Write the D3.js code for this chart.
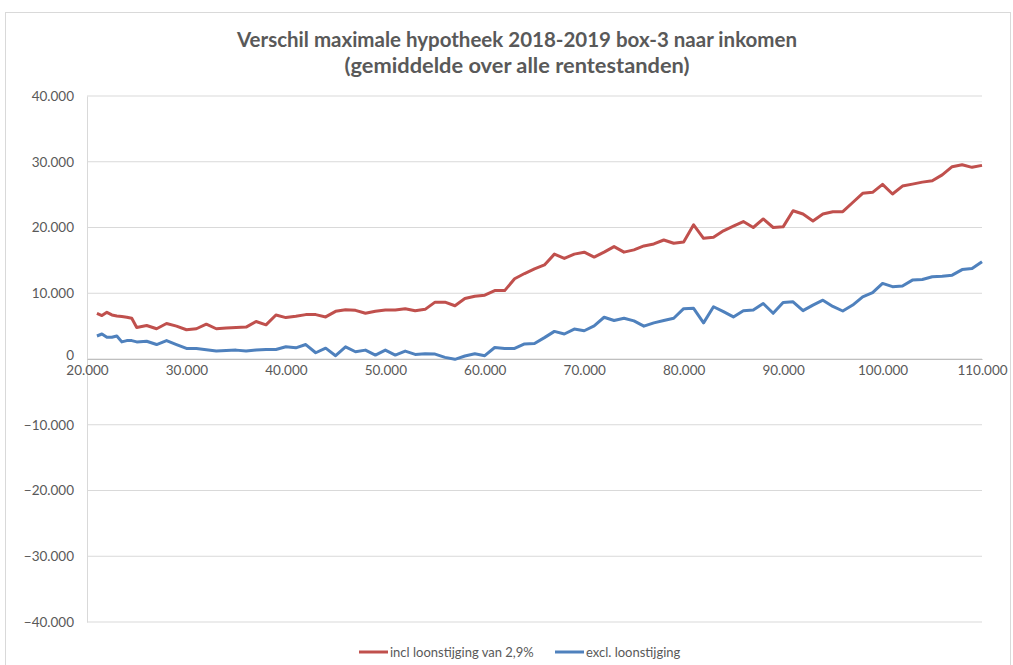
<!DOCTYPE html>
<html>
<head>
<meta charset="utf-8">
<script src="https://cdn.jsdelivr.net/npm/d3@7"></script>
<style>
  body { margin: 0; background: #fff; }
  text { font-family: Lato, "Open Sans", sans-serif; fill: #595959; }
</style>
</head>
<body>
<div class="chart"></div>
<script>
// inkomen (x 1000) en verschil maximale hypotheek (x 1000)
var inkomen = [21, 21.5, 22, 22.5, 23, 23.5, 24, 24.5, 25, 26, 27, 28, 29, 30, 31, 32, 33, 34, 35, 36, 37, 38, 39, 40,
  41, 42, 43, 44, 45, 46, 47, 48, 49, 50, 51, 52, 53, 54, 55, 56, 57, 58, 59, 60, 61, 62, 63, 64, 65, 66, 67, 68, 69, 70,
  71, 72, 73, 74, 75, 76, 77, 78, 79, 80, 81, 82, 83, 84, 85, 86, 87, 88, 89, 90, 91, 92, 93, 94, 95, 96, 97, 98, 99, 100,
  101, 102, 103, 104, 105, 106, 107, 108, 109, 110];

var inclLoon = [6.95, 6.6, 7.1, 6.7, 6.55, 6.45, 6.35, 6.2, 4.8, 5.1, 4.6, 5.4, 5.0, 4.45, 4.6, 5.3, 4.6, 4.7, 4.8, 4.85, 5.7, 5.2, 6.7, 6.3,
  6.5, 6.75, 6.75, 6.4, 7.25, 7.5, 7.4, 6.95, 7.25, 7.45, 7.45, 7.65, 7.35, 7.55, 8.65, 8.65, 8.1, 9.2, 9.55, 9.7, 10.4, 10.4, 12.2, 13.0, 13.7, 14.3, 15.95, 15.3, 15.95, 16.25,
  15.5, 16.25, 17.1, 16.25, 16.6, 17.2, 17.5, 18.1, 17.6, 17.8, 20.4, 18.35, 18.5, 19.5, 20.2, 20.9, 20.0, 21.3, 20.0, 20.1, 22.55, 22.05, 21.0, 22.05, 22.4, 22.4, 23.8, 25.2, 25.35, 26.55,
  25.1, 26.3, 26.6, 26.9, 27.1, 28.0, 29.25, 29.55, 29.15, 29.45];

var exclLoon = [3.5, 3.8, 3.3, 3.3, 3.5, 2.6, 2.8, 2.8, 2.6, 2.7, 2.2, 2.8, 2.2, 1.6, 1.6, 1.4, 1.2, 1.3, 1.35, 1.2, 1.37, 1.45, 1.45, 1.87,
  1.7, 2.2, 0.95, 1.65, 0.5, 1.85, 1.1, 1.35, 0.6, 1.35, 0.6, 1.2, 0.7, 0.8, 0.75, 0.25, -0.05, 0.45, 0.8, 0.5, 1.75, 1.6, 1.6, 2.3, 2.35, 3.25, 4.2, 3.8, 4.55, 4.3,
  5.05, 6.35, 5.85, 6.2, 5.8, 5.0, 5.5, 5.85, 6.2, 7.65, 7.7, 5.5, 7.95, 7.2, 6.4, 7.35, 7.45, 8.45, 6.95, 8.6, 8.7, 7.35, 8.2, 8.95, 8.0, 7.3, 8.2, 9.45, 10.1, 11.5,
  11.0, 11.1, 12.0, 12.1, 12.5, 12.6, 12.75, 13.6, 13.75, 14.8];

var xTicks = [20, 30, 40, 50, 60, 70, 80, 90, 100, 110];
var yTicks = [-40, -30, -20, -10, 0, 10, 20, 30, 40];
var seriesNames = ["incl loonstijging van 2,9%", "excl. loonstijging"];
var titleLines = ["Verschil maximale hypotheek 2018-2019 box-3 naar inkomen", "(gemiddelde over alle rentestanden)"];
var colors = ["#C0504D", "#4F81BD"];

var svgW = 1013, svgH = 665;
var margin = {top: 96, right: 31, bottom: 43, left: 87};
var width = svgW - margin.left - margin.right;
var height = svgH - margin.top - margin.bottom;

var fmt = function(d) {
  return d3.format(",.0f")(d * 1000).replace(/,/g, ".");
};

var svg = d3.select(".chart").append("svg")
  .attr("width", svgW)
  .attr("height", svgH);

// chart border
svg.append("rect")
  .attr("x", 5.5).attr("y", 12.5)
  .attr("width", 1005).attr("height", 660)
  .attr("fill", "none").attr("stroke", "#d9d9d9");

// title
var titleW = [560, 345];
titleLines.forEach(function(t, i) {
  svg.append("text")
    .attr("x", 517).attr("y", 47 + i * 26)
    .attr("text-anchor", "middle")
    .attr("textLength", titleW[i])
    .attr("lengthAdjust", "spacingAndGlyphs")
    .style("font-size", "20.5px").style("font-weight", "bold")
    .text(t);
});

var g = svg.append("g")
  .attr("transform", `translate(${margin.left}, ${margin.top})`);

var x = d3.scaleLinear().domain([20, 110]).range([0, width]);
var y = d3.scaleLinear().domain([-40, 40]).range([height, 0]);

// gridlines
g.append("g")
  .selectAll("line")
  .data(yTicks)
  .enter()
  .append("line")
  .attr("x1", 0).attr("x2", width)
  .attr("y1", d => y(d)).attr("y2", d => y(d))
  .attr("stroke", "#d9d9d9").attr("stroke-width", 1);

// y axis
var leftAxis = d3.axisLeft(y).tickValues(yTicks).tickFormat(fmt).tickSize(0).tickPadding(13);
var yAxis = g.append("g").call(leftAxis);
yAxis.select(".domain").attr("stroke", "#d9d9d9");
yAxis.selectAll("text").style("font-size", "13.5px").attr("fill", "#595959");
// "0" a little higher so it clears the x labels
yAxis.selectAll(".tick text").filter(d => d === 0).attr("dy", "0.05em");

// x axis at zero
var bottomAxis = d3.axisBottom(x).tickValues(xTicks).tickFormat(fmt).tickSize(0).tickPadding(6);
var xAxis = g.append("g")
  .attr("transform", `translate(0, ${y(0)})`)
  .call(bottomAxis);
xAxis.select(".domain").attr("stroke", "#bfbfbf");
xAxis.selectAll("text").style("font-size", "13.5px").attr("fill", "#595959");

// lines
var line = d3.line()
  .x((d, i) => x(inkomen[i]))
  .y(d => y(d));

[inclLoon, exclLoon].forEach(function(vals, k) {
  g.append("path")
    .datum(vals)
    .attr("d", line)
    .attr("fill", "none")
    .attr("stroke", colors[k])
    .attr("stroke-width", 3)
    .attr("stroke-linejoin", "round");
});

// legend
var legendX = [359, 555];
var lg = svg.append("g").attr("transform", "translate(0, 652)");
seriesNames.forEach(function(name, k) {
  lg.append("line")
    .attr("x1", legendX[k]).attr("x2", legendX[k] + 29)
    .attr("y1", 0).attr("y2", 0)
    .attr("stroke", colors[k]).attr("stroke-width", 3);
  lg.append("text")
    .attr("x", legendX[k] + 31).attr("y", 4.5)
    .style("font-size", "13px")
    .text(name);
});
</script>
</body>
</html>
